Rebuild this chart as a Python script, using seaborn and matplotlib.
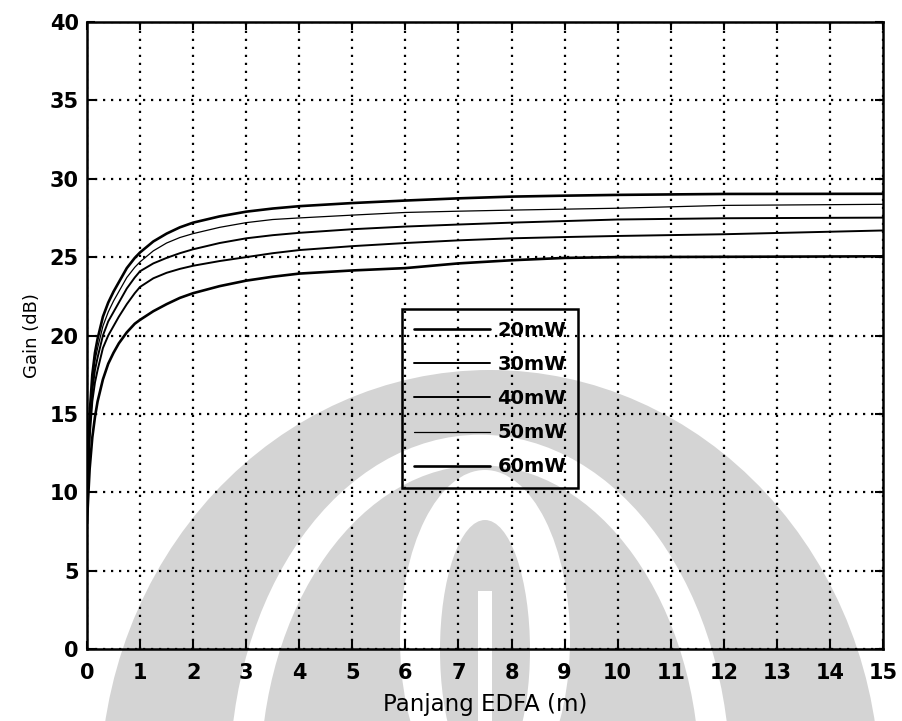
import numpy as np
import pandas as pd
import matplotlib
matplotlib.use("Agg")
import matplotlib.pyplot as plt
import seaborn as sns
from matplotlib.patches import Ellipse, Rectangle

# Fibre length (m) at which the gain was sampled
length_m = [0, 0.02, 0.05, 0.1, 0.15, 0.2, 0.3, 0.4, 0.5, 0.6, 0.75, 0.9, 1, 1.25, 1.5,
            1.75, 2, 2.5, 3, 3.5, 4, 5, 6, 7, 8, 9, 10, 12, 15]

# Gain (dB) for each pump power
gain_20mW = [8.0, 9.5, 11.5, 13.5, 14.8, 15.8, 17.2, 18.2, 18.9, 19.5, 20.2, 20.75, 21.0, 21.55, 22.0,
             22.4, 22.7, 23.15, 23.5, 23.75, 23.95, 24.15, 24.3, 24.6, 24.8, 24.95, 25.0, 25.02, 25.05]
gain_30mW = [8.5, 10.5, 13.5, 15.8, 17.0, 17.8, 19.2, 20.0, 20.6, 21.2, 22.0, 22.7, 23.1, 23.65, 24.0,
             24.25, 24.45, 24.75, 25.0, 25.25, 25.45, 25.7, 25.9, 26.07, 26.2, 26.28, 26.35, 26.46, 26.7]
gain_40mW = [9.0, 11.0, 14.0, 16.5, 17.8, 18.6, 20.0, 20.9, 21.5, 22.1, 23.0, 23.7, 24.1, 24.6, 24.95,
             25.25, 25.5, 25.9, 26.2, 26.4, 26.55, 26.78, 26.95, 27.08, 27.2, 27.3, 27.4, 27.48, 27.52]
gain_50mW = [9.0, 11.5, 14.5, 17.0, 18.4, 19.2, 20.6, 21.5, 22.2, 22.8, 23.7, 24.35, 24.7, 25.4, 25.9,
             26.25, 26.5, 26.9, 27.2, 27.4, 27.5, 27.68, 27.85, 27.93, 28.0, 28.06, 28.12, 28.3, 28.37]
gain_60mW = [9.0, 12.0, 15.0, 17.5, 18.9, 19.8, 21.2, 22.1, 22.8, 23.4, 24.3, 24.95, 25.3, 26.0, 26.5,
             26.9, 27.2, 27.6, 27.9, 28.1, 28.25, 28.45, 28.61, 28.75, 28.86, 28.92, 28.97, 29.03, 29.04]

series_labels = ["20mW", "30mW", "40mW", "50mW", "60mW"]
series_values = [gain_20mW, gain_30mW, gain_40mW, gain_50mW, gain_60mW]
series_widths = [1.9, 1.4, 1.4, 0.9, 1.9]

x_ticks = list(range(0, 16))
y_ticks = list(range(0, 41, 5))

frames = []
for lab, vals in zip(series_labels, series_values):
    frames.append(pd.DataFrame({"Panjang EDFA (m)": length_m, "Gain (dB)": vals, "Pompa": lab}))
df = pd.concat(frames, ignore_index=True)

sns.set_theme(style="white")
plt.rcParams["font.family"] = ["DejaVu Sans"]
for key in ["text.color", "axes.labelcolor", "xtick.color", "ytick.color", "axes.edgecolor"]:
    plt.rcParams[key] = "black"

W, H = 902, 721
fig = plt.figure(figsize=(W / 100, H / 100), dpi=100)
fig.patch.set_facecolor("white")

# faint background emblem, drawn under the axes
wm = "#d4d4d4"
def fx(px):
    return px / W
def fy(py):
    return 1 - py / H

emblem = [
    Ellipse((fx(490), fy(790)), 780 / W, 840 / H, facecolor=wm, edgecolor="none"),
    Ellipse((fx(480), fy(780)), 470 / W, 660 / H, facecolor="none", edgecolor="white", linewidth=22),
    Ellipse((fx(485), fy(640)), 170 / W, 340 / H, facecolor="white", edgecolor="none"),
    Ellipse((fx(485), fy(650)), 90 / W, 260 / H, facecolor=wm, edgecolor="none"),
    Rectangle((fx(478), fy(721)), 14 / W, 130 / H, facecolor="white", edgecolor="none"),
]
for p in emblem:
    p.set_transform(fig.transFigure)
    p.set_zorder(-10)
    fig.add_artist(p)

ax = fig.add_axes([87 / W, 1 - 649 / H, 796 / W, 627 / H])
ax.set_facecolor("none")

for lab, lw in zip(series_labels, series_widths):
    sns.lineplot(data=df[df["Pompa"] == lab], x="Panjang EDFA (m)", y="Gain (dB)",
                 color="black", linewidth=lw, label=lab, ax=ax, zorder=3)

ax.set_xlim(0, 15)
ax.set_ylim(0, 40)
ax.set_xticks(x_ticks)
ax.set_yticks(y_ticks)
ax.set_xticklabels([str(t) for t in x_ticks], fontsize=15, fontweight="bold")
ax.set_yticklabels([str(t) for t in y_ticks], fontsize=15, fontweight="bold")
ax.tick_params(direction="in", length=6, width=1.5, top=True, right=True,
               bottom=True, left=True, colors="black")
ax.tick_params(axis="x", pad=10)
ax.tick_params(axis="y", pad=6)
ax.grid(True, color="black", linewidth=1.6, linestyle=(0, (1, 2.6)))
for s in ax.spines.values():
    s.set_color("black")
    s.set_linewidth(1.8)
ax.set_xlabel("Panjang EDFA (m)", fontsize=16.5, labelpad=7)
ax.set_ylabel("Gain (dB)", fontsize=13, labelpad=6)

leg = ax.legend(loc="upper left", bbox_to_anchor=(0.396, 0.542),
                prop={"size": 14, "weight": "bold"},
                handlelength=3.9, labelspacing=0.78, handletextpad=0.4,
                borderpad=0.6, borderaxespad=0, fancybox=False, frameon=True,
                framealpha=1)
leg.get_frame().set_edgecolor("black")
leg.get_frame().set_linewidth(1.8)
leg.get_frame().set_facecolor("none")
leg.set_zorder(5)

fig.savefig("out.png", dpi=100)
